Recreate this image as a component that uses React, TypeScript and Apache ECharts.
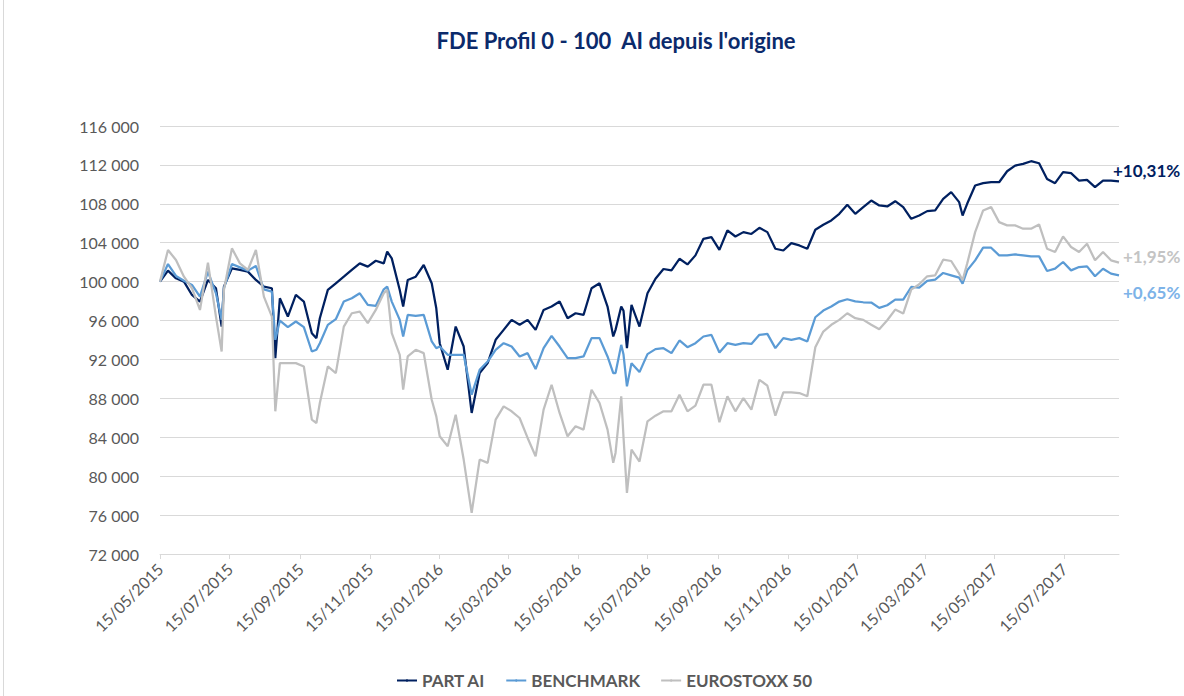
import React, { useEffect, useRef } from 'react';
import * as echarts from 'echarts';

const dates = [
  '2015-05-15', '2015-05-22', '2015-05-29', '2015-06-05', '2015-06-12', '2015-06-19', '2015-06-26', '2015-07-03', '2015-07-08', '2015-07-10',
  '2015-07-17', '2015-07-24', '2015-07-31', '2015-08-07', '2015-08-14', '2015-08-21', '2015-08-24', '2015-08-28', '2015-09-04', '2015-09-11',
  '2015-09-18', '2015-09-25', '2015-09-29', '2015-10-02', '2015-10-09', '2015-10-16', '2015-10-23', '2015-10-30', '2015-11-06', '2015-11-13',
  '2015-11-20', '2015-11-27', '2015-11-30', '2015-12-04', '2015-12-11', '2015-12-14', '2015-12-18', '2015-12-25', '2016-01-01', '2016-01-08',
  '2016-01-12', '2016-01-15', '2016-01-22', '2016-01-29', '2016-02-05', '2016-02-12', '2016-02-19', '2016-02-26', '2016-03-04', '2016-03-11',
  '2016-03-18', '2016-03-25', '2016-04-01', '2016-04-08', '2016-04-15', '2016-04-22', '2016-04-29', '2016-05-06', '2016-05-13', '2016-05-20',
  '2016-05-27', '2016-06-03', '2016-06-10', '2016-06-15', '2016-06-17', '2016-06-22', '2016-06-24', '2016-06-27', '2016-07-01', '2016-07-08',
  '2016-07-15', '2016-07-22', '2016-07-29', '2016-08-05', '2016-08-12', '2016-08-19', '2016-08-26', '2016-09-02', '2016-09-09', '2016-09-16',
  '2016-09-23', '2016-09-30', '2016-10-07', '2016-10-14', '2016-10-21', '2016-10-28', '2016-11-04', '2016-11-11', '2016-11-18', '2016-11-25',
  '2016-12-02', '2016-12-09', '2016-12-16', '2016-12-23', '2016-12-30', '2017-01-06', '2017-01-13', '2017-01-20', '2017-01-27', '2017-02-03',
  '2017-02-10', '2017-02-17', '2017-02-24', '2017-03-03', '2017-03-10', '2017-03-17', '2017-03-24', '2017-03-31', '2017-04-07', '2017-04-14',
  '2017-04-17', '2017-04-21', '2017-04-28', '2017-05-05', '2017-05-12', '2017-05-19', '2017-05-26', '2017-06-02', '2017-06-09', '2017-06-16',
  '2017-06-23', '2017-06-30', '2017-07-07', '2017-07-14', '2017-07-21', '2017-07-28', '2017-08-04', '2017-08-11', '2017-08-18', '2017-08-25',
  '2017-09-01',
];

const partAI = [
  100000, 101130, 100340, 100000, 98630, 97950, 100170, 99320, 95380, 99490,
  101370, 101200, 101030, 100170, 99490, 99320, 92140, 98290, 96410, 98630,
  97950, 94700, 94190, 96240, 99150, 99830, 100510, 101200, 101880, 101540,
  102150, 101880, 103080, 102390, 99150, 97440, 100170, 100510, 101710, 99830,
  97260, 93670, 90940, 95380, 93330, 86500, 90600, 91620, 94020, 95040,
  96070, 95560, 96070, 95040, 97090, 97440, 97950, 96240, 96750, 96580,
  99320, 99830, 97440, 94360, 95040, 97440, 97000, 93160, 97610, 95380,
  98800, 100300, 101300, 101150, 102350, 101770, 102700, 104400, 104580, 103270,
  105260, 104640, 105090, 104900, 105530, 105090, 103380, 103200, 103960, 103720,
  103380, 105330, 105840, 106290, 106970, 107900, 106970, 107660, 108340, 107830,
  107730, 108270, 107660, 106460, 106800, 107250, 107320, 108510, 109200, 108170,
  106800, 108000, 109880, 110120, 110220, 110220, 111350, 111930, 112100, 112380,
  112170, 110560, 110120, 111250, 111150, 110390, 110460, 109710, 110390, 110390,
  110310,
];

const benchmark = [
  100000, 101810, 100580, 100100, 99660, 98460, 101030, 98800, 96070, 99320,
  101810, 101470, 101130, 101610, 99210, 98970, 94020, 96000, 95320, 95900,
  95320, 92820, 93000, 93670, 95560, 96140, 97950, 98290, 98800, 97610,
  97500, 99210, 99490, 97950, 96070, 94360, 96580, 96480, 96580, 93850,
  93160, 93330, 92480, 92480, 92480, 88380, 90940, 91790, 92990, 93670,
  93330, 92310, 92650, 91010, 93160, 94430, 93330, 92140, 92140, 92310,
  94190, 94190, 92310, 90600, 90600, 93500, 92500, 89230, 91620, 90700,
  92550, 93060, 93160, 92650, 93950, 93260, 93670, 94360, 94530, 92720,
  93670, 93500, 93670, 93600, 94530, 94630, 93160, 94190, 94020, 94190,
  93850, 96340, 97030, 97440, 97950, 98190, 97980, 97880, 97850, 97300,
  97570, 98150, 98150, 99450, 99380, 100070, 100210, 100890, 100650, 100410,
  99800, 101160, 102190, 103490, 103490, 102700, 102700, 102800, 102700, 102600,
  102600, 101090, 101330, 102020, 101160, 101500, 101570, 100550, 101330, 100820,
  100650,
];

const eurostoxx50 = [
  100000, 103250, 102220, 100510, 99320, 97090, 101950, 96410, 92820, 99150,
  103420, 101880, 101200, 103250, 98460, 96410, 86670, 91620, 91620, 91620,
  91280, 85810, 85470, 87520, 91280, 90600, 95380, 96750, 96920, 95730,
  97090, 98800, 99150, 94700, 92480, 88890, 92310, 92990, 92650, 87860,
  86150, 84100, 83080, 86320, 81710, 76240, 81710, 81370, 85810, 87180,
  86670, 85980, 83930, 82050, 86840, 89400, 86500, 84100, 85130, 84790,
  88890, 87520, 84790, 81370, 82390, 88210, 84000, 78290, 82730, 81500,
  85640, 86220, 86670, 86670, 88380, 86670, 87250, 89400, 89400, 85540,
  88210, 86670, 88030, 86840, 89910, 89300, 86220, 88620, 88620, 88550,
  88210, 93260, 94870, 95560, 96070, 96750, 96240, 96070, 95560, 95100,
  96030, 97130, 96720, 99180, 99730, 100550, 100650, 102260, 102120, 100820,
  100140, 101850, 105090, 107320, 107660, 106120, 105780, 105780, 105440, 105440,
  105880, 103380, 103040, 104650, 103560, 103040, 103900, 102190, 103040, 102190,
  101950,
];

const seriesNames = ['PART AI', 'BENCHMARK', 'EUROSTOXX 50'];
const seriesColors = ['#002060', '#5B9BD5', '#BFBFBF'];
const endLabelTexts = ['+10,31%', '+0,65%', '+1,95%'];
const endLabelColors = ['#002060', '#7DB3E8', '#C4C4C4'];

const xTickLabels = [
  '15/05/2015', '15/07/2015', '15/09/2015', '15/11/2015', '15/01/2016', '15/03/2016', '15/05/2016',
  '15/07/2016', '15/09/2016', '15/11/2016', '15/01/2017', '15/03/2017', '15/05/2017', '15/07/2017',
];
const xStart = '15/05/2015';
const xEnd = '01/09/2017';
const yMin = 72000;
const yMax = 116000;
const yInterval = 4000;

const title = "FDE Profil 0 - 100  AI depuis l'origine";
const FONT = 'Lato, "Liberation Sans", sans-serif';

function dmyToTime(s: string): number {
  const [d, m, y] = s.split('/').map(Number);
  return new Date(y, m - 1, d).getTime();
}
function isoToTime(s: string): number {
  const [y, m, d] = s.split('-').map(Number);
  return new Date(y, m - 1, d).getTime();
}
function fmtDate(t: number): string {
  const dt = new Date(t);
  const dd = String(dt.getDate()).padStart(2, '0');
  const mm = String(dt.getMonth() + 1).padStart(2, '0');
  return `${dd}/${mm}/${dt.getFullYear()}`;
}
function fmtNum(v: number): string {
  return String(v).replace(/\B(?=(\d{3})+(?!\d))/g, ' ');
}

export default function App() {
  const ref = useRef<HTMLDivElement>(null);
  useEffect(() => {
    document.body.style.margin = '0';
    const chart = echarts.init(ref.current as HTMLDivElement, null, { renderer: 'svg' });
    const tickTimes = xTickLabels.map(dmyToTime);
    const allSeries = [partAI, benchmark, eurostoxx50];
    const endOffsets = [[-14, -11], [-4, 17], [-4, -6]];
    chart.setOption({
      animation: false,
      backgroundColor: '#ffffff',
      title: {
        text: title,
        left: 611,
        top: 24,
        textAlign: 'center',
        textStyle: { fontFamily: FONT, fontSize: 22, fontWeight: 'bold', color: '#0B2A6B' },
      },
      legend: {
        data: seriesNames,
        left: 391,
        top: 667,
        itemWidth: 20,
        itemHeight: 3,
        itemGap: 20,
        textStyle: { fontFamily: FONT, fontSize: 17, fontWeight: 'bold', color: '#595959' },
      },
      grid: { left: 160, right: 65, top: 126, bottom: 142, outerBoundsMode: 'none', containLabel: false },
      xAxis: {
        type: 'value',
        min: dmyToTime(xStart),
        max: dmyToTime(xEnd),
        axisLine: { show: true, lineStyle: { color: '#D9D9D9', width: 1 } },
        axisTick: { show: true, length: 5, lineStyle: { color: '#D9D9D9' }, customValues: tickTimes },
        axisLabel: {
          customValues: tickTimes,
          formatter: (v: number) => fmtDate(v),
          rotate: 45,
          margin: 12,
          fontFamily: FONT,
          fontSize: 16,
          color: '#595959',
          showMinLabel: true,
          showMaxLabel: true,
        },
        splitLine: { show: false },
      },
      yAxis: {
        type: 'value',
        min: yMin,
        max: yMax,
        interval: yInterval,
        axisLine: { show: false },
        axisTick: { show: false },
        axisLabel: { formatter: (v: number) => fmtNum(v), margin: 21, fontFamily: FONT, fontSize: 16, color: '#595959' },
        splitLine: { show: true, lineStyle: { color: '#D9D9D9', width: 1 } },
      },
      graphic: [
        { type: 'line', shape: { x1: 3.5, y1: 0, x2: 3.5, y2: 696 }, style: { stroke: '#D9D9D9', lineWidth: 1 } },
      ],
      series: allSeries.map((vals, i) => ({
        name: seriesNames[i],
        type: 'line',
        data: dates.map((d, j) => [isoToTime(d), vals[j]]),
        symbol: 'none',
        showSymbol: false,
        clip: false,
        lineStyle: { color: seriesColors[i], width: 2.25 },
        itemStyle: { color: seriesColors[i] },
        endLabel: {
          show: true,
          formatter: endLabelTexts[i],
          color: endLabelColors[i],
          fontFamily: FONT,
          fontSize: 17,
          fontWeight: 'bold',
          offset: endOffsets[i],
        },
      })),
    });
    return () => chart.dispose();
  }, []);
  return <div ref={ref} style={{ width: 1184, height: 696 }} />;
}
